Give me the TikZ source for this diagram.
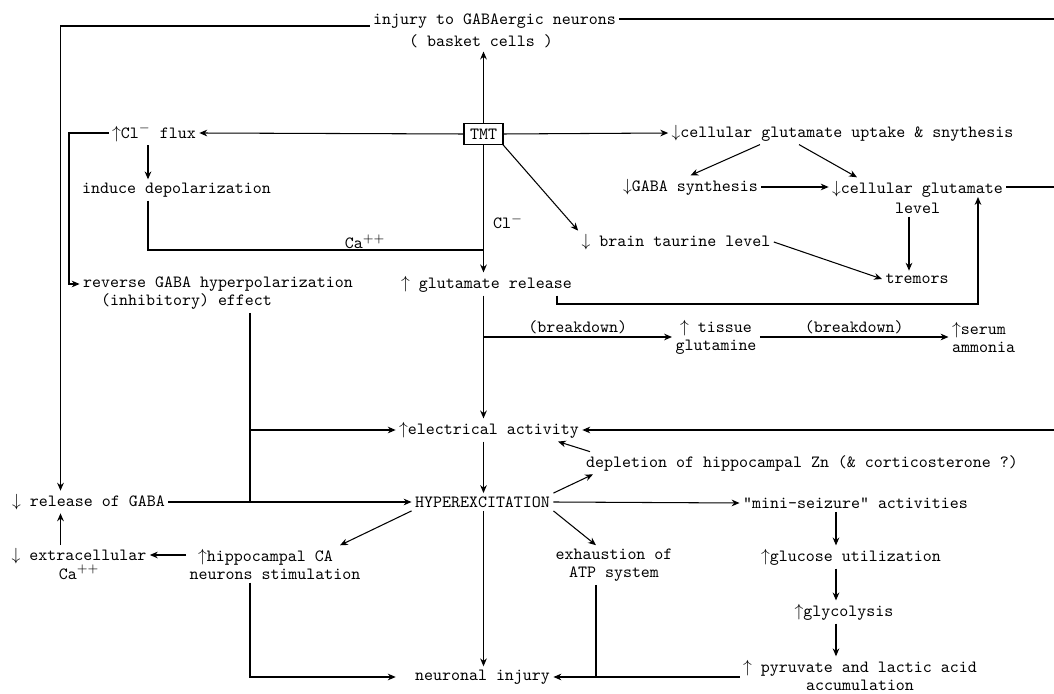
\documentclass[tikz,border=0pt]{standalone}
\usetikzlibrary{arrows.meta}
\newcommand{\diafont}{\fontsize{9.75}{10.3}\selectfont\ttfamily}
\tikzset{arr/.style={-{Stealth[length=4.5pt,width=3.8pt]}}}
\begin{document}
\begin{tikzpicture}[scale=0.2, line width=0.6pt]
        \tikzstyle{every node}+=[inner sep=0pt, outer sep=2pt, font=\diafont]
        \useasboundingbox (0,0) rectangle (105.4,-69.4);
        % nodes
        \node (inj) [align=left] at (49.45,-3.1) {injury to GABAergic neurons\\[2.2pt]\hspace*{2.1em}( basket cells )};
        \node (tmt) [draw, outer sep=0pt, minimum width=0.78cm, minimum height=0.43cm] at (48.35,-13.4) {TMT};
        \node (clf) at (15.4,-13.3) {$\uparrow$Cl$^-$ flux};
        \node (dep) at (17.65,-19.0) {induce depolarization};
        \node (rev) [align=left] at (21.8,-29.3) {reverse GABA hyperpolarization\\\hspace*{1.05em}(inhibitory) effect};
        \node (glr) at (48.65,-28.4) {$\uparrow$ glutamate release};
        \node (cup) at (84.25,-13.3) {$\downarrow$cellular glutamate uptake \& snythesis};
        \node (gsy) at (69.05,-18.7) {$\downarrow$GABA synthesis};
        \node (cgl) [align=center] at (91.75,-19.7) {$\downarrow$cellular glutamate\\[1.1pt]level};
        \node (btl) at (67.6,-24.2) {$\downarrow$ brain taurine level};
        \node (trm) at (91.7,-27.9) {tremors};
        \node (tgl) [align=center] at (71.6,-33.7) {$\uparrow$ tissue\\glutamine};
        \node (sam) [align=left] at (98.35,-33.7) {$\uparrow$serum\\ammonia};
        \node (ela) at (48.9,-43.0) {$\uparrow$electrical activity};
        \node (dpl) at (80.2,-46.3) {depletion of hippocampal Zn (\& corticosterone ?)};
        \node (rgb) at (8.85,-50.2) {$\downarrow$ release of GABA};
        \node (hyp) at (48.25,-50.2) {HYPEREXCITATION};
        \node (msz) at (85.55,-50.3) {"mini-seizure" activities};
        \node (ecl) [align=center] at (7.9,-56.4) {$\downarrow$ extracellular\\Ca$^{++}$};
        \node (hip) [align=left] at (27.5,-56.4) {\hspace*{.5em}$\uparrow$hippocampal CA\\neurons stimulation};
        \node (exh) [align=center] at (61.4,-56.5) {exhaustion of\\ATP system};
        \node (gcu) at (85.1,-55.7) {$\uparrow$glucose utilization};
        \node (gly) at (84.4,-61.2) {$\uparrow$glycolysis};
        \node (pyr) [align=center] at (86.0,-67.5) {$\uparrow$ pyruvate and lactic acid\\accumulation};
        \node (nij) at (48.25,-67.7) {neuronal injury};
        \node (clLbl) at (50.8,-22.2) {Cl$^-$};
        \node (caLbl) at (36.5,-24.2) {Ca$^{++}$};
        % bends and columns
        \coordinate (injL) at (6.05,-2.6);
        \coordinate (injR) at (105.4,-1.9);
        \coordinate (fluxL) at (6.9,-28.4);
        \coordinate (xFlux) at (14.8,0);
        \coordinate (caY) at (0,-25.0);
        \coordinate (glrLoop) at (55.7,-30.4);
        \coordinate (xLoop) at (97.8,0);
        \coordinate (xEdge) at (105.4,0);
        \coordinate (xRev) at (25.0,0);
        \coordinate (xTrm) at (90.9,0);
        \coordinate (xUpA) at (76.0,0);
        \coordinate (xUpB) at (79.9,0);
        \coordinate (xCgl) at (85.7,0);
        \coordinate (xDplA) at (59.0,0);
        \coordinate (xElaIn) at (55.8,0);
        \coordinate (xDplIn) at (59.3,0);
        \coordinate (xHip) at (34.0,0);
        \coordinate (yHip) at (0,-55.5);
        \coordinate (xExh) at (59.6,0);
        \coordinate (xMsz) at (83.6,0);
        % connectors
        \draw [arr] (tmt.north) -- (tmt.north |- inj.south);
        \draw [arr] (inj.west |- injL) -- (injL) -- (injL |- rgb.north);
        \draw (inj.east |- injR) -- (injR);
        \draw [arr] (tmt.west) -- (clf.east);
        \draw [arr] (clf.west) -| (fluxL) -- (fluxL -| rev.west);
        \draw [arr] (clf.south -| xFlux) -- (dep.north -| xFlux);
        \draw (dep.south -| xFlux) |- (caY -| tmt.south);
        \draw [arr] (tmt.south) -- (tmt.south |- glr.north);
        \draw [arr] (tmt.east) -- (cup.west);
        \draw [arr] (tmt.south east) -- (btl.north west);
        \draw [arr] (cup.south -| xUpA) -- (gsy.north);
        \draw [arr] (cup.south -| xUpB) -- (cgl.north -| xCgl);
        \draw [arr] (gsy.east) -- (gsy.east -| cgl.west);
        \draw (gsy.east -| cgl.east) -- (gsy.east -| xEdge);
        \draw [arr] (cgl.south -| xTrm) -- (trm.north -| xTrm);
        \draw [arr] (btl.east) -- (trm.west);
        \draw [arr] (glr.south -| glrLoop) -- (glrLoop) -| (cgl.center -| xLoop);
        \draw [arr] (glr.south -| tmt) -- (ela.north -| tmt);
        \draw [arr] (tgl.west -| tmt) -- (tgl.west) node [midway, above] (bkd1) {(breakdown)};
        \draw [arr] (tgl.east) -- (sam.west) node [midway, above] (bkd2) {(breakdown)};
        \draw (rev.south -| xRev) -- (rgb.east -| xRev);
        \draw [arr] (ela.west -| xRev) -- (ela.west);
        \draw [arr] (rgb.east) -- (hyp.west);
        \draw [arr] (xEdge |- ela.east) -- (ela.east);
        \draw [arr] (ela.south -| tmt) -- (hyp.north -| tmt);
        \draw [arr] (dpl.north -| xDplA) -- (ela.south -| xElaIn);
        \draw [arr] (hyp.north east) -- (dpl.south -| xDplIn);
        \draw [arr] (hyp.east) -- (msz.west);
        \draw [arr] (hyp.south east) -- (exh.north -| xExh);
        \draw [arr] (hyp.south west) -- (hip.north -| xHip);
        \draw [arr] (hip.west |- yHip) -- (ecl.east |- yHip);
        \draw [arr] (ecl.north -| injL) -- (rgb.south -| injL);
        \draw [arr, shorten >=9pt] (hip.south -| xRev) |- (nij.west);
        \draw [arr] (hyp.south -| tmt) -- (nij.north -| tmt);
        \draw [arr] (pyr.west |- nij.east) -- (nij.east);
        \draw (exh.south -| xExh) -- (nij.east -| xExh);
        \draw [arr] (msz.south -| xMsz) -- (gcu.north -| xMsz);
        \draw [arr] (gcu.south -| xMsz) -- (gly.north -| xMsz);
        \draw [arr] (gly.south -| xMsz) -- (pyr.north -| xMsz);
\end{tikzpicture}
\end{document}
